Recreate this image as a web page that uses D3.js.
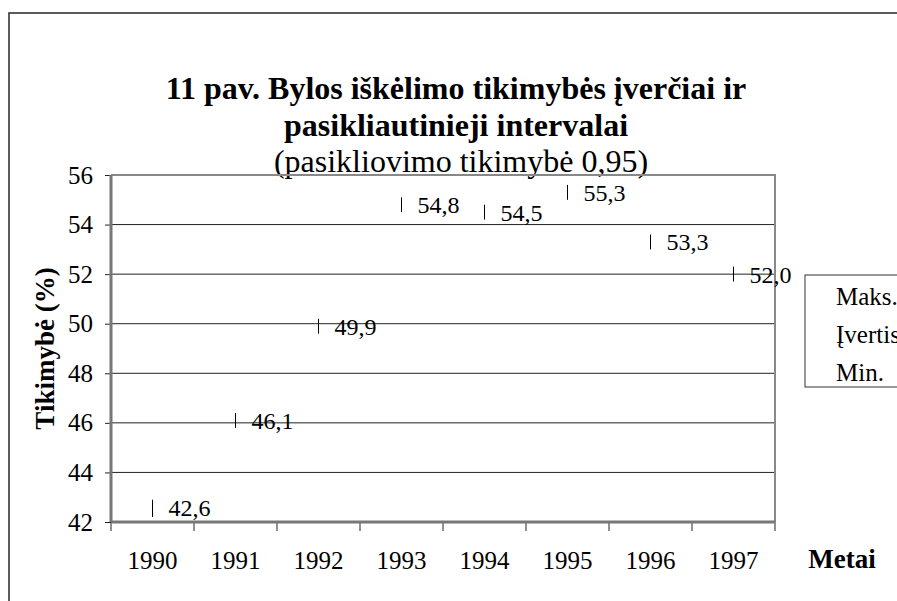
<!DOCTYPE html>
<html>
<head>
<meta charset="utf-8">
<script src="https://cdn.jsdelivr.net/npm/d3@7/dist/d3.min.js"></script>
<style>
  body { margin: 0; background: #fff; }
  svg { display: block; }
  svg text { font-family: "Liberation Serif", "Times New Roman", serif; fill: #000; }
</style>
</head>
<body>
<div id="chart"></div>
<script>
// data
const years = ["1990", "1991", "1992", "1993", "1994", "1995", "1996", "1997"];
const estimate = [42.6, 46.1, 49.9, 54.8, 54.5, 55.3, 53.3, 52.0];
const maxVals = [42.9, 46.4, 50.2, 55.1, 54.8, 55.6, 53.6, 52.3];
const minVals = [42.2, 45.8, 49.6, 54.5, 54.2, 55.0, 53.0, 51.7];
const yTicks = [42, 44, 46, 48, 50, 52, 54, 56];
const legendItems = ["Maks.", "Įvertis", "Min."];

const width = 897, height = 601;
const plot = { left: 111, right: 775, top: 175, bottom: 522 };

const svg = d3.select("#chart").append("svg")
  .attr("width", width)
  .attr("height", height);

// outer frame (runs off the right and bottom edge)
svg.append("rect")
  .attr("x", 9).attr("y", 13)
  .attr("width", 1000).attr("height", 700)
  .attr("fill", "none")
  .attr("stroke", "#333")
  .attr("stroke-width", 1.6);

// titles
svg.append("text")
  .attr("x", 456).attr("y", 99)
  .attr("text-anchor", "middle")
  .style("font-size", "32px").style("font-weight", "bold")
  .text("11 pav. Bylos iškėlimo tikimybės įverčiai ir");
svg.append("text")
  .attr("x", 456).attr("y", 136)
  .attr("text-anchor", "middle")
  .style("font-size", "32px").style("font-weight", "bold")
  .text("pasikliautinieji intervalai");
svg.append("text")
  .attr("x", 461).attr("y", 172)
  .attr("text-anchor", "middle")
  .style("font-size", "32px")
  .text("(pasikliovimo tikimybė 0,95)");

const x = d3.scaleBand()
  .domain(years)
  .range([plot.left, plot.right]);

const y = d3.scaleLinear()
  .domain([42, 56])
  .range([plot.bottom, plot.top]);

// gridlines
svg.append("g")
  .selectAll("line")
  .data(yTicks.slice(1, -1))
  .enter()
  .append("line")
  .attr("x1", plot.left).attr("x2", plot.right)
  .attr("y1", d => y(d)).attr("y2", d => y(d))
  .attr("stroke", "#222")
  .attr("stroke-width", 1);

// plot frame (top & right)
svg.append("path")
  .attr("d", `M${plot.left},${plot.top}H${plot.right}V${plot.bottom}`)
  .attr("fill", "none")
  .attr("stroke", "#888")
  .attr("stroke-width", 2);

// y axis
const yAxis = d3.axisLeft(y).tickValues(yTicks).tickSize(6).tickPadding(12);
const gy = svg.append("g")
  .attr("transform", `translate(${plot.left},0)`)
  .call(yAxis);
gy.select(".domain").remove();
gy.selectAll(".tick line").attr("stroke", "#222");
gy.selectAll(".tick text").style("font-size", "25px");

// x axis ticks at band edges
const edges = years.map(d => x(d)).concat([x.range()[1]]);
svg.append("g")
  .selectAll("line")
  .data(edges)
  .enter()
  .append("line")
  .attr("x1", d => d).attr("x2", d => d)
  .attr("y1", plot.bottom).attr("y2", plot.bottom + 9)
  .attr("stroke", "#222");

// axis lines
svg.append("line")
  .attr("x1", plot.left).attr("x2", plot.left)
  .attr("y1", plot.top).attr("y2", plot.bottom)
  .attr("stroke", "#777").attr("stroke-width", 3);
svg.append("line")
  .attr("x1", plot.left).attr("x2", plot.right)
  .attr("y1", plot.bottom).attr("y2", plot.bottom)
  .attr("stroke", "#777").attr("stroke-width", 3);

svg.append("g")
  .selectAll("text")
  .data(years)
  .enter()
  .append("text")
  .attr("x", d => x(d) + x.bandwidth() / 2)
  .attr("y", 569)
  .attr("text-anchor", "middle")
  .style("font-size", "25px")
  .text(d => d);

// high-low lines
const cx = d => x(d) + x.bandwidth() / 2;
svg.append("g")
  .selectAll("line")
  .data(years)
  .enter()
  .append("line")
  .attr("x1", d => cx(d)).attr("x2", d => cx(d))
  .attr("y1", (d, i) => y(maxVals[i]))
  .attr("y2", (d, i) => y(minVals[i]))
  .attr("stroke", "#000")
  .attr("stroke-width", 1);

// value labels
svg.append("g")
  .selectAll("text")
  .data(years)
  .enter()
  .append("text")
  .attr("x", d => cx(d) + 16)
  .attr("y", (d, i) => y(estimate[i]))
  .attr("dy", "0.35em")
  .style("font-size", "24px")
  .text((d, i) => estimate[i].toFixed(1).replace(".", ","));

// axis titles
svg.append("text")
  .attr("transform", `translate(54,${(plot.top + plot.bottom) / 2}) rotate(-90)`)
  .attr("text-anchor", "middle")
  .style("font-size", "27px").style("font-weight", "bold")
  .text("Tikimybė (%)");
svg.append("text")
  .attr("x", 842).attr("y", 568)
  .attr("text-anchor", "middle")
  .style("font-size", "27px").style("font-weight", "bold")
  .text("Metai");

// legend
svg.append("rect")
  .attr("x", 805).attr("y", 275)
  .attr("width", 200).attr("height", 112)
  .attr("fill", "#fff")
  .attr("stroke", "#333")
  .attr("stroke-width", 1);
svg.append("g")
  .selectAll("text")
  .data(legendItems)
  .enter()
  .append("text")
  .attr("x", 836)
  .attr("y", (d, i) => 305 + i * 38)
  .style("font-size", "25px")
  .text(d => d);
</script>
</body>
</html>
